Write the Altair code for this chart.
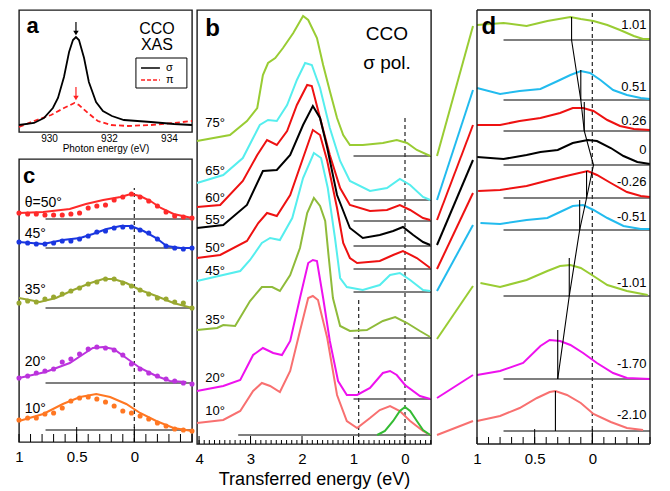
import altair as alt
import pandas as pd

FONT = "Liberation Sans"

# ---------------- Panel a : XAS ----------------
a_sigma_E = [929.0, 929.5, 929.83, 930.13, 930.3, 930.5, 930.67, 930.8, 930.9, 931.0, 931.17, 931.33, 931.57, 931.8, 932.1, 932.5, 933.4, 934.17, 934.77]
a_sigma_I = [7, 9, 14, 24, 34, 55, 80, 92, 95, 92, 74, 50, 30, 21, 16, 12, 10, 8, 7]
a_pi_E = [929.0, 929.5, 930.07, 930.5, 930.85, 931.0, 931.3, 931.63, 932.07, 932.63, 933.4, 934.17, 934.77]
a_pi_I = [5, 11, 17, 24, 29, 27, 19, 11, 7, 6, 7, 9, 11]
a_ticks = [930, 932, 934]

# ---------------- Panel b : RIXS vs angle ----------------
b_names = ["75°", "65°", "60°", "55°", "50°", "45°", "35°", "20°", "10°", "el"]
b_colors = ["#99cc33", "#55eeee", "#ee1111", "#000000", "#ee1111", "#55eeee", "#8fbb3a", "#ee11ee", "#f87070", "#33bb33"]
b_E = [
    [4.04, 3.40, 3.07, 2.87, 2.76, 2.66, 2.52, 2.37, 2.17, 1.98, 1.88, 1.71, 1.59, 1.46, 1.32, 1.20, 1.07, 0.82, 0.43, 0.16, -0.04, -0.23, -0.49],
    [4.04, 3.53, 3.15, 2.95, 2.82, 2.66, 2.49, 2.29, 2.10, 1.94, 1.81, 1.65, 1.46, 1.26, 1.07, 0.68, 0.35, 0.10, -0.10, -0.35, -0.49],
    [4.04, 3.59, 3.15, 2.87, 2.68, 2.49, 2.29, 2.10, 1.90, 1.81, 1.65, 1.46, 1.26, 1.07, 0.68, 0.35, 0.10, -0.10, -0.35, -0.49],
    [4.04, 3.53, 3.07, 2.76, 2.49, 2.23, 1.98, 1.79, 1.65, 1.51, 1.32, 1.07, 0.82, 0.49, 0.23, 0.04, -0.16, -0.35, -0.49],
    [4.04, 3.59, 3.07, 2.85, 2.68, 2.49, 2.23, 1.98, 1.79, 1.65, 1.51, 1.32, 1.20, 1.07, 0.93, 0.49, 0.23, 0.04, -0.23, -0.49],
    [4.04, 3.20, 3.01, 2.78, 2.62, 2.43, 2.19, 1.98, 1.77, 1.63, 1.50, 1.36, 1.26, 1.13, 0.82, 0.49, 0.29, 0.10, -0.10, -0.35, -0.49],
    [4.04, 3.65, 3.53, 3.30, 3.01, 2.78, 2.58, 2.43, 2.23, 2.04, 1.90, 1.77, 1.65, 1.55, 1.48, 1.40, 1.26, 1.07, 0.74, 0.43, 0.19, -0.04, -0.29, -0.49],
    [4.04, 3.53, 3.20, 2.95, 2.76, 2.56, 2.39, 2.23, 2.04, 1.88, 1.79, 1.71, 1.59, 1.46, 1.30, 1.13, 0.93, 0.68, 0.43, 0.29, 0.16, 0.00, -0.29, -0.49],
    [4.04, 3.53, 3.20, 2.95, 2.78, 2.62, 2.43, 2.23, 2.04, 1.88, 1.79, 1.69, 1.51, 1.32, 1.13, 0.93, 0.68, 0.49, 0.29, 0.10, -0.10, -0.35, -0.49],
    [0.54, 0.39, 0.23, 0.10, 0.00, -0.10, -0.23, -0.35, -0.49],
]
b_I = [
    [303, 309, 323, 336, 369, 381, 386, 396, 411, 428, 424, 406, 379, 353, 326, 309, 299, 299, 301, 304, 301, 294, 288],
    [261, 269, 286, 306, 319, 324, 323, 339, 364, 381, 379, 356, 316, 283, 263, 253, 256, 265, 259, 247, 244],
    [237, 239, 263, 289, 304, 299, 313, 339, 359, 358, 326, 289, 256, 239, 233, 234, 239, 234, 226, 224],
    [216, 219, 239, 273, 274, 289, 319, 338, 326, 296, 249, 216, 206, 209, 213, 217, 209, 202, 199],
    [186, 189, 203, 221, 231, 228, 249, 286, 314, 309, 283, 236, 201, 186, 181, 183, 189, 193, 186, 176],
    [163, 173, 184, 201, 206, 204, 226, 266, 291, 286, 256, 206, 166, 157, 154, 159, 169, 171, 164, 154, 153],
    [114, 116, 119, 118, 143, 157, 157, 153, 169, 196, 231, 246, 238, 223, 186, 146, 118, 113, 114, 123, 127, 121, 113, 107],
    [53, 58, 64, 89, 96, 91, 89, 103, 146, 181, 184, 183, 146, 103, 63, 49, 49, 56, 71, 73, 69, 59, 48, 45],
    [21, 24, 33, 53, 61, 58, 52, 73, 113, 146, 148, 144, 106, 49, 23, 16, 26, 34, 38, 33, 23, 13, 9],
    [9, 13, 23, 33, 37, 33, 23, 14, 9],
]
b_base_I = [288, 244, 223, 198, 175, 152, 106, 45]
b_base10_I = 9
b_label_I = [321, 273, 246, 224, 196, 173, 124, 66, 33]
b_ticks = [4, 3, 2, 1, 0]

# ---------------- Panel c : fits ----------------
c_names = ["θ=50°", "45°", "35°", "20°", "10°"]
c_colors = ["#ff2a2a", "#1a36e0", "#99a830", "#bb33dd", "#ff7722"]
c_dot_E = [1.00, 0.925, 0.85, 0.775, 0.70, 0.625, 0.55, 0.475, 0.40, 0.325, 0.25, 0.175, 0.10, 0.025, -0.05, -0.125, -0.20, -0.275, -0.35, -0.425, -0.50]
c_dot_I = [
    [229, 228, 228, 227, 227, 227, 228, 229, 234, 236, 237, 242, 245, 248, 245, 241, 236, 230, 226, 225, 224],
    [200, 199, 198, 198, 199, 201, 201, 203, 206, 210, 211, 214, 215, 215, 212, 209, 203, 196, 194, 193, 194],
    [139, 141, 140, 143, 145, 148, 151, 154, 158, 160, 163, 163, 159, 156, 152, 148, 144, 143, 140, 139, 134],
    [64, 66, 69, 71, 73, 80, 83, 88, 93, 95, 94, 92, 87, 78, 73, 69, 66, 63, 61, 59, 58],
    [22, 24, 24, 28, 29, 34, 41, 44, 45, 43, 40, 36, 31, 29, 26, 23, 19, 16, 13, 12, 11],
]
c_fit_E = [
    [1.00, 0.79, 0.56, 0.42, 0.27, 0.12, 0.03, -0.05, -0.14, -0.23, -0.34, -0.50],
    [1.00, 0.79, 0.62, 0.47, 0.36, 0.24, 0.12, 0.03, -0.08, -0.19, -0.28, -0.40, -0.50],
    [1.00, 0.82, 0.68, 0.53, 0.38, 0.27, 0.18, 0.07, -0.05, -0.19, -0.34, -0.50],
    [1.00, 0.77, 0.56, 0.44, 0.36, 0.27, 0.18, 0.07, -0.05, -0.19, -0.31, -0.45],
    [1.00, 0.79, 0.62, 0.47, 0.33, 0.21, 0.07, -0.05, -0.19, -0.34, -0.50],
]
c_fit_I = [
    [229, 230, 233, 238, 242, 245, 248, 246, 241, 234, 228, 224],
    [200, 198, 202, 204, 208, 213, 216, 216, 211, 204, 196, 194, 194],
    [144, 140, 144, 152, 159, 163, 163, 159, 152, 146, 139, 134],
    [64, 70, 79, 88, 94, 95, 93, 84, 74, 66, 61, 60],
    [21, 28, 38, 45, 48, 45, 38, 29, 21, 14, 11],
]
c_base_I = [223, 194, 134, 59, 12]
c_label_I = [239, 208, 152, 80, 33]
c_ticks = [1, 0.5, 0]

# ---------------- Panel d : momentum dependence ----------------
d_names = ["1.01", "0.51", "0.26", "0", "-0.26", "-0.51", "-1.01", "-1.70", "-2.10"]
d_colors = ["#99cc33", "#22bbee", "#ee1111", "#000000", "#ee1111", "#22bbee", "#99cc33", "#ee11ee", "#f87070"]
d_E = [
    [1.00, 0.77, 0.57, 0.39, 0.19, 0.10, -0.01, -0.13, -0.24, -0.36, -0.44, -0.50],
    [1.00, 0.80, 0.63, 0.45, 0.30, 0.19, 0.10, 0.02, -0.07, -0.18, -0.30, -0.42, -0.50],
    [1.00, 0.80, 0.63, 0.45, 0.28, 0.17, 0.08, -0.01, -0.13, -0.24, -0.36, -0.50],
    [1.00, 0.77, 0.57, 0.45, 0.30, 0.17, 0.04, -0.04, -0.16, -0.27, -0.39, -0.50],
    [0.99, 0.80, 0.57, 0.37, 0.19, 0.04, -0.04, -0.16, -0.30, -0.42, -0.50],
    [0.97, 0.80, 0.57, 0.39, 0.28, 0.17, 0.08, -0.01, -0.13, -0.27, -0.42, -0.50],
    [0.97, 0.80, 0.57, 0.39, 0.28, 0.19, 0.10, -0.01, -0.13, -0.30, -0.48],
    [1.00, 0.80, 0.60, 0.45, 0.37, 0.28, 0.19, 0.08, -0.04, -0.18, -0.30, -0.50],
    [1.00, 0.80, 0.63, 0.48, 0.37, 0.32, 0.22, 0.10, -0.01, -0.16, -0.30, -0.44],
]
d_I = [
    [419, 421, 418, 423, 427, 425, 423, 419, 414, 408, 405, 405],
    [356, 350, 353, 355, 363, 369, 373, 371, 364, 354, 349, 346, 345],
    [319, 319, 323, 326, 331, 336, 336, 333, 324, 318, 315, 314],
    [287, 285, 289, 292, 294, 301, 304, 303, 296, 288, 282, 280],
    [253, 254, 258, 264, 269, 273, 269, 261, 252, 248, 247],
    [221, 220, 224, 226, 232, 238, 239, 234, 226, 218, 215, 215],
    [161, 157, 164, 173, 178, 179, 176, 168, 159, 153, 149],
    [69, 73, 81, 98, 104, 103, 99, 91, 81, 71, 66, 65],
    [23, 28, 36, 46, 52, 53, 49, 41, 30, 22, 16, 14],
]
d_base_I = [404, 344, 313, 279, 246, 214, 148, 65, 13]
d_label_I = [419, 357, 323, 294, 262, 227, 161, 80, 29]
d_peak_E = [0.18, 0.10, 0.07, 0.05, 0.11, 0.20, 0.30, 0.32]
d_peak_lo = [404, 344, 313, 246, 214, 148, 65, 13]
d_peak_hi = [427, 374, 342, 273, 244, 186, 114, 53]
d_disp_E = [0.18, 0.10, 0.07, -0.01, 0.05, 0.11, 0.20, 0.30]
d_disp_I = [404, 344, 313, 279, 246, 214, 148, 65]

# connectors between b (curve ends) and d (curve starts)
conn_from_I = [288, 244, 224, 199, 175, 153, 105, 46, 9]
conn_to_I = [418, 354, 319, 284, 251, 219, 158, 69, 23]


def long_df(names, Es, Is):
    rows = []
    for n, ex, iy in zip(names, Es, Is):
        for k, (e, i) in enumerate(zip(ex, iy)):
            rows.append({"s": n, "E": e, "I": i, "o": k})
    return pd.DataFrame(rows)


H_BIG = 434
H_A = 122
H_C = 283
W_A = 173
W_B = 234
W_C = 173
W_D = 173
W_GAP = 42                     # strip between panel b and panel d frame
D_PX_PER_EV = W_D / 1.5
D_XMAX = 1.0 + W_GAP / D_PX_PER_EV
FRAME = "#1a1a1a"

tick_style = dict(grid=False, domain=False, ticks=False, labelFont=FONT, labelFontSize=15,
                  labelPadding=7, labelColor="black", labelFlush=False)

# ---------------- build panel a ----------------
XA = alt.X("E:Q", scale=alt.Scale(domain=[929.0, 934.77], nice=False, zero=False),
           axis=alt.Axis(values=a_ticks, format="d", title="Photon energy (eV)", grid=False,
                         domain=False, ticks=False, labelFont=FONT, titleFont=FONT,
                         labelFontSize=10, titleFontSize=10, labelPadding=1, titlePadding=0,
                         titleFontWeight="normal", labelColor="black", titleColor="black"))
YA = alt.Y("I:Q", scale=alt.Scale(domain=[0, H_A], nice=False, zero=False), axis=None)

a_sig = pd.DataFrame({"E": a_sigma_E, "I": a_sigma_I, "o": range(len(a_sigma_E))})
a_pi = pd.DataFrame({"E": a_pi_E, "I": a_pi_I, "o": range(len(a_pi_E))})
a_arrows = pd.DataFrame({"E": [930.9, 930.9], "I": [110, 45], "I2": [99, 34], "c": ["k", "r"]})
a_box = pd.DataFrame({"E": [932.9], "E2": [934.6], "I": [74], "I2": [44]})
a_leg = pd.DataFrame({"E": [933.07, 933.07], "E2": [933.7, 933.7], "I": [64, 52]})
a_txt_big = pd.DataFrame({"E": [933.6, 933.6], "I": [103, 87], "t": ["CCO", "XAS"]})
a_txt_leg = pd.DataFrame({"E": [933.9, 933.9], "I": [64, 52], "t": ["σ", "π"]})
a_letter = pd.DataFrame({"E": [929.25], "I": [106], "t": ["a"]})

arrow_scale = alt.Scale(domain=["k", "r"], range=["black", "#ff2020"])
panel_a = alt.layer(
    alt.Chart(a_box).mark_rect(fill="white", stroke="black", strokeWidth=1).encode(
        x=XA, x2=alt.X2("E2"), y=YA, y2=alt.Y2("I2")),
    alt.Chart(a_pi).mark_line(color="#ff2020", strokeWidth=1.8, strokeDash=[5, 3]).encode(x=XA, y=YA, order="o:Q"),
    alt.Chart(a_sig).mark_line(color="black", strokeWidth=1.8).encode(x=XA, y=YA, order="o:Q"),
    alt.Chart(a_arrows).mark_rule(strokeWidth=1.2).encode(
        x=XA, y=YA, y2=alt.Y2("I2"), color=alt.Color("c:N", scale=arrow_scale, legend=None)),
    alt.Chart(a_arrows).mark_point(shape="triangle-down", filled=True, size=30, opacity=1).encode(
        x=XA, y=alt.Y("I2:Q", scale=alt.Scale(domain=[0, H_A], nice=False, zero=False), axis=None),
        color=alt.Color("c:N", scale=arrow_scale, legend=None)),
    alt.Chart(a_leg.iloc[[0]]).mark_rule(color="black", strokeWidth=1.5).encode(x=XA, x2=alt.X2("E2"), y=YA),
    alt.Chart(a_leg.iloc[[1]]).mark_rule(color="#ff2020", strokeWidth=1.5, strokeDash=[4, 2]).encode(x=XA, x2=alt.X2("E2"), y=YA),
    alt.Chart(a_txt_leg).mark_text(align="left", baseline="middle", fontSize=11, font=FONT).encode(x=XA, y=YA, text="t:N"),
    alt.Chart(a_txt_big).mark_text(align="center", baseline="middle", fontSize=16, font=FONT).encode(x=XA, y=YA, text="t:N"),
    alt.Chart(a_letter).mark_text(align="left", baseline="middle", fontSize=22, fontWeight="bold", font=FONT).encode(x=XA, y=YA, text="t:N"),
).properties(width=W_A, height=H_A)

# ---------------- build panel c ----------------
XC = alt.X("E:Q", scale=alt.Scale(domain=[-0.5, 1.0], reverse=True, nice=False, zero=False),
           axis=alt.Axis(values=c_ticks, format="~g", title="", **tick_style))
YC = alt.Y("I:Q", scale=alt.Scale(domain=[0, H_C], nice=False, zero=False), axis=None)
c_color = alt.Color("s:N", scale=alt.Scale(domain=c_names, range=c_colors), legend=None)

c_fit = long_df(c_names, c_fit_E, c_fit_I)
c_dots = long_df(c_names, [c_dot_E] * len(c_names), c_dot_I)
c_base = pd.DataFrame({"E": [0.77] * len(c_base_I), "E2": [-0.5] * len(c_base_I), "I": c_base_I})
c_lab = pd.DataFrame({"E": [0.95] * len(c_names), "I": c_label_I, "t": c_names})
c_dash = pd.DataFrame({"E": [0.0], "I": [0], "I2": [254]})
c_letter = pd.DataFrame({"E": [0.965], "I": [266], "t": ["c"]})
minor_c = pd.DataFrame({"E": [round(1.0 - 0.1 * k, 1) for k in range(16)]})
major_c = pd.DataFrame({"E": [0.5, 0.0]})

panel_c = alt.layer(
    alt.Chart(c_base).mark_rule(color="black", strokeWidth=1.2).encode(x=XC, x2=alt.X2("E2"), y=YC),
    alt.Chart(c_dash).mark_rule(color="#333333", strokeWidth=1.3, strokeDash=[4, 3]).encode(x=XC, y=YC, y2=alt.Y2("I2")),
    alt.Chart(minor_c).mark_rule(color="black", strokeWidth=1).encode(x=XC, y=alt.value(H_C - 8), y2=alt.value(H_C)),
    alt.Chart(major_c).mark_rule(color="black", strokeWidth=1).encode(x=XC, y=alt.value(H_C - 15), y2=alt.value(H_C)),
    alt.Chart(c_fit).mark_line(strokeWidth=2).encode(x=XC, y=YC, color=c_color, detail="s:N", order="o:Q"),
    alt.Chart(c_dots).mark_circle(size=26, opacity=1).encode(x=XC, y=YC, color=c_color),
    alt.Chart(c_lab).mark_text(align="left", baseline="middle", fontSize=14, font=FONT).encode(x=XC, y=YC, text="t:N"),
    alt.Chart(c_letter).mark_text(align="left", baseline="middle", fontSize=22, fontWeight="bold", font=FONT).encode(x=XC, y=YC, text="t:N"),
).properties(width=W_C, height=H_C)

# ---------------- build panel b ----------------
XB = alt.X("E:Q", scale=alt.Scale(domain=[-0.505, 4.04], reverse=True, nice=False, zero=False),
           axis=alt.Axis(values=b_ticks, format="d", title="Transferred energy (eV)",
                         titleFont=FONT, titleFontSize=18, titleFontWeight="normal",
                         titleColor="black", titlePadding=4, **tick_style))
YB = alt.Y("I:Q", scale=alt.Scale(domain=[0, H_BIG], nice=False, zero=False), axis=None)
b_color = alt.Color("s:N", scale=alt.Scale(domain=b_names, range=b_colors), legend=None)

b_lines = long_df(b_names, b_E, b_I)
b_base = pd.DataFrame({"E": [1.0] * len(b_base_I) + [3.24], "E2": [-0.505] * (len(b_base_I) + 1),
                       "I": b_base_I + [b_base10_I]})
b_lab = pd.DataFrame({"E": [3.88] * 9, "I": b_label_I, "t": b_names[:9]})
b_dash = pd.DataFrame({"E": [0.0, 0.9], "I": [0, 0], "I2": [329, 146]})
b_txt = pd.DataFrame({"E": [0.35, 0.35], "I": [410, 381], "t": ["CCO", "σ pol."]})
b_letter = pd.DataFrame({"E": [3.88], "I": [415], "t": ["b"]})
minor_b = pd.DataFrame({"E": [round(4.0 - 0.1 * k, 1) for k in range(46)]})
major_b = pd.DataFrame({"E": b_ticks})

panel_b = alt.layer(
    alt.Chart(b_base).mark_rule(color="black", strokeWidth=1.2).encode(x=XB, x2=alt.X2("E2"), y=YB),
    alt.Chart(b_dash).mark_rule(color="#333333", strokeWidth=1.3, strokeDash=[4, 3]).encode(x=XB, y=YB, y2=alt.Y2("I2")),
    alt.Chart(minor_b).mark_rule(color="black", strokeWidth=1).encode(x=XB, y=alt.value(H_BIG - 4), y2=alt.value(H_BIG)),
    alt.Chart(major_b).mark_rule(color="black", strokeWidth=1).encode(x=XB, y=alt.value(H_BIG - 8), y2=alt.value(H_BIG)),
    alt.Chart(b_lines).mark_line(strokeWidth=2).encode(x=XB, y=YB, color=b_color, detail="s:N", order="o:Q"),
    alt.Chart(b_lab).mark_text(align="left", baseline="middle", fontSize=13, font=FONT).encode(x=XB, y=YB, text="t:N"),
    alt.Chart(b_txt).mark_text(align="center", baseline="middle", fontSize=19, font=FONT).encode(x=XB, y=YB, text="t:N"),
    alt.Chart(b_letter).mark_text(align="left", baseline="middle", fontSize=24, fontWeight="bold", font=FONT).encode(x=XB, y=YB, text="t:N"),
).properties(width=W_B, height=H_BIG)

# ---------------- build panel d (with the connector strip on its left) ----------------
XD = alt.X("E:Q", scale=alt.Scale(domain=[-0.5, D_XMAX], reverse=True, nice=False, zero=False),
           axis=alt.Axis(values=c_ticks, format="~g", title="", **tick_style))
YD = alt.Y("I:Q", scale=alt.Scale(domain=[0, H_BIG], nice=False, zero=False), axis=None)
d_color = alt.Color("s:N", scale=alt.Scale(domain=d_names, range=d_colors), legend=None)

conn_x_start = 1.0 + (W_GAP - 2) / D_PX_PER_EV
conn_x_end = 1.0 + 4 / D_PX_PER_EV
conn_rows = []
for k, n in enumerate(d_names):
    conn_rows.append({"s": n, "E": conn_x_start, "I": conn_from_I[k], "o": 0})
    conn_rows.append({"s": n, "E": conn_x_end, "I": conn_to_I[k], "o": 1})
conn_df = pd.DataFrame(conn_rows)

d_lines = long_df(d_names, d_E, d_I)
d_base = pd.DataFrame({"E": [0.77] * len(d_base_I), "E2": [-0.5] * len(d_base_I), "I": d_base_I})
d_lab = pd.DataFrame({"E": [-0.47] * len(d_names), "I": d_label_I, "t": d_names})
d_dash = pd.DataFrame({"E": [0.0], "I": [0], "I2": [H_BIG]})
d_peaks = pd.DataFrame({"E": d_peak_E, "I": d_peak_lo, "I2": d_peak_hi})
d_disp = pd.DataFrame({"E": d_disp_E, "I": d_disp_I, "o": range(len(d_disp_E))})
d_letter = pd.DataFrame({"E": [0.96], "I": [417], "t": ["d"]})
d_frame_h = pd.DataFrame({"E": [1.0, 1.0], "E2": [-0.5, -0.5], "I": [0, H_BIG]})
d_frame_v = pd.DataFrame({"E": [1.0, -0.5], "I": [0, 0], "I2": [H_BIG, H_BIG]})

panel_d = alt.layer(
    alt.Chart(d_base).mark_rule(color="black", strokeWidth=1.2).encode(x=XD, x2=alt.X2("E2"), y=YD),
    alt.Chart(d_dash).mark_rule(color="#333333", strokeWidth=1.3, strokeDash=[4, 3]).encode(x=XD, y=YD, y2=alt.Y2("I2")),
    alt.Chart(minor_c).mark_rule(color="black", strokeWidth=1).encode(x=XD, y=alt.value(H_BIG - 7), y2=alt.value(H_BIG)),
    alt.Chart(major_c).mark_rule(color="black", strokeWidth=1).encode(x=XD, y=alt.value(H_BIG - 15), y2=alt.value(H_BIG)),
    alt.Chart(conn_df).mark_line(strokeWidth=2).encode(x=XD, y=YD, color=d_color, detail="s:N", order="o:Q"),
    alt.Chart(d_lines).mark_line(strokeWidth=2).encode(x=XD, y=YD, color=d_color, detail="s:N", order="o:Q"),
    alt.Chart(d_peaks).mark_rule(color="black", strokeWidth=1.1).encode(x=XD, y=YD, y2=alt.Y2("I2")),
    alt.Chart(d_disp).mark_line(color="black", strokeWidth=1.1).encode(x=XD, y=YD, order="o:Q"),
    alt.Chart(d_frame_h).mark_rule(color=FRAME, strokeWidth=1.4).encode(x=XD, x2=alt.X2("E2"), y=YD),
    alt.Chart(d_frame_v).mark_rule(color=FRAME, strokeWidth=1.4).encode(x=XD, y=YD, y2=alt.Y2("I2")),
    alt.Chart(d_lab).mark_text(align="right", baseline="middle", fontSize=13, font=FONT).encode(x=XD, y=YD, text="t:N"),
    alt.Chart(d_letter).mark_text(align="left", baseline="middle", fontSize=24, fontWeight="bold", font=FONT).encode(x=XD, y=YD, text="t:N"),
).properties(width=W_D + W_GAP, height=H_BIG, view=alt.ViewBackground(stroke="transparent"))

left_col = alt.vconcat(panel_a, panel_c, spacing=4).resolve_scale(color="independent")
right_part = alt.hconcat(panel_b, panel_d, spacing=-11).resolve_scale(color="independent")
chart = alt.hconcat(left_col, right_part, spacing=-6).resolve_scale(color="independent").properties(
    padding={"left": 6, "top": 0, "right": 0, "bottom": 0}
).configure_view(stroke=FRAME, strokeWidth=1.4).configure_axis(grid=False)

chart.save("out.html", embed_options={"renderer": "svg", "actions": False})
